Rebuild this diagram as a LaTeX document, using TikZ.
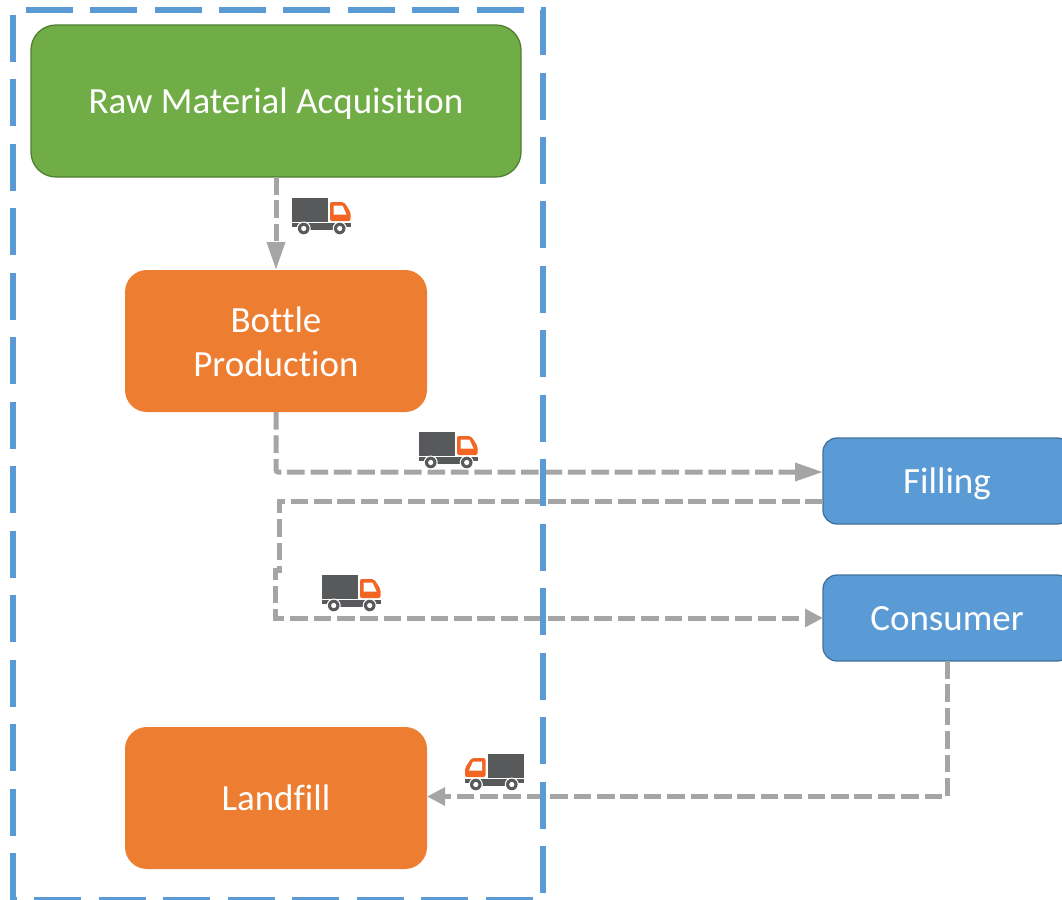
\documentclass[tikz,border=0pt]{standalone}
\usepackage{fontspec}
\setmainfont[Ligatures=NoCommon]{Carlito}
\usetikzlibrary{positioning}
\usetikzlibrary{arrows.meta}
\definecolor{rawgreen}{HTML}{70AD47}
\definecolor{rawedge}{HTML}{507E32}
\definecolor{stageorange}{HTML}{ED7D31}
\definecolor{useblue}{HTML}{5B9BD5}
\definecolor{useedge}{HTML}{41719C}
\definecolor{flowgrey}{HTML}{A5A5A5}
\definecolor{truckgrey}{HTML}{58595B}
\definecolor{caborange}{HTML}{F26522}
\tikzset{
 truck/.pic={
  \fill[truckgrey] (0,0) rectangle (36,23.5);
  \fill[caborange, rounded corners=2pt] (38,23) -- (38,4) -- (52,4) -- (58.5,14) -- (58.5,23) -- cycle;
  \fill[white] (41.5,16.5) -- (41.5,7.5) -- (50.5,7.5) -- (54.5,16.5) -- cycle;
  \fill[truckgrey] (0,24.5) rectangle (58.5,29);
  \fill[truckgrey] (9,28) rectangle (52,32);
  \foreach \wheelx in {11.7,47.7}{
   \fill[white] (\wheelx,30.5) circle (7pt);
   \fill[truckgrey] (\wheelx,30.5) circle (5.8pt);
   \fill[white] (\wheelx,30.5) circle (2.6pt);
  }
 }
}
\begin{document}
\begin{tikzpicture}[
 x=1pt, y=-1pt,
 labeltext/.style={text=white, text height=30pt, text depth=6pt, font=\fontsize{37}{44}\selectfont},
 stagenode/.style={rectangle, rounded corners=22pt, fill=stageorange, labeltext, minimum width=302pt, minimum height=142pt, outer sep=0pt, align=center},
 rawnode/.style={stagenode, rounded corners=25pt, fill=rawgreen, draw=rawedge, line width=1.3pt, minimum width=490pt, minimum height=152pt},
 usenode/.style={rectangle, rounded corners=14pt, fill=useblue, draw=useedge, line width=1.3pt, labeltext, minimum width=248pt, minimum height=86pt, outer sep=0pt},
 flowline/.style={draw=flowgrey, line width=5pt, dash pattern=on 17.6pt off 5.8pt},
 flowtip/.style={flowline, -{Triangle[length=18pt,width=17.5pt,sep=0pt]}},
 flowtiplong/.style={flowline, -{Triangle[length=28pt,width=17.5pt,sep=0pt]}},
 frameline/.style={draw=useblue, line width=5.7pt, dash pattern=on 47pt off 17.47pt},
]
 \useasboundingbox (0,0) rectangle (1062,899);
 %Nodes
 \node[rawnode]   (raw_node)      at (276,101) {Raw Material Acquisition};
 \node[stagenode, text height=76pt] (bottle_node) [below=93pt of raw_node] {Bottle\\Production};
 \node[stagenode] (landfill_node) [below=315pt of bottle_node] {Landfill};
 \node[usenode]   (filling_node)  at (947,481) {Filling};
 \node[usenode]   (consumer_node) [below=51pt of filling_node] {Consumer};

 %Corners
 \coordinate (filling_in)  at ([yshift=9pt]filling_node.west);
 \coordinate (filling_out) at ([yshift=-20.5pt]filling_node.west);
 \coordinate (jog_top)     at (279,570);
 \coordinate (jog_bottom)  at (275.5,570);
 \coordinate (landfill_in) at ([yshift=1.5pt]landfill_node.east);

 %Lines
 \draw[flowtiplong] (raw_node.south) -- (bottle_node.north);
 \draw[flowtiplong, rounded corners=2pt] (bottle_node.south) |- (filling_in);
 \draw[flowtip] (filling_out) -| (jog_top) -- (jog_bottom) |- (consumer_node.west);
 \draw[flowtip] (consumer_node.south) |- (landfill_in);

 %Trucks
 \pic at (292,198) {truck};
 \pic at (419,432) {truck};
 \pic at (322,575) {truck};
 \pic[xscale=-1] at (523.5,754) {truck};

 %Frame
 \draw[frameline] (13,900) -- (13,10) -- (543.3,10) -- (543.3,900) -- cycle;
\end{tikzpicture}
\end{document}
